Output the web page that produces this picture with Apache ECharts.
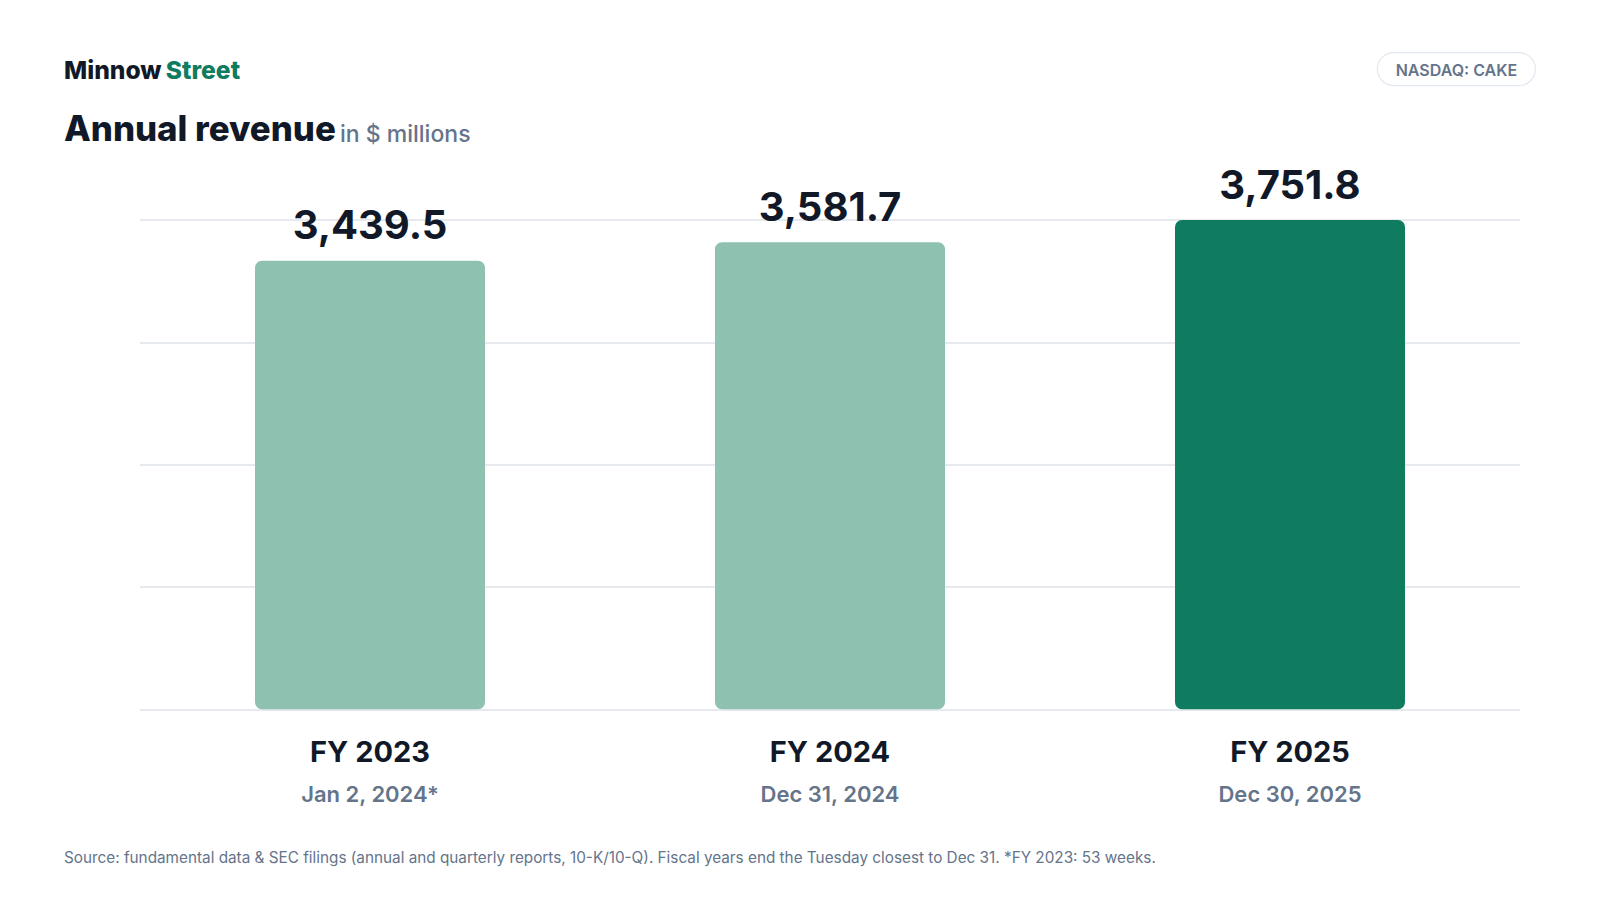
<!DOCTYPE html>
<html>
<head>
<meta charset="utf-8">
<script src="https://cdn.jsdelivr.net/npm/echarts@6/dist/echarts.min.js"></script>
<style>
html,body{margin:0;padding:0;background:#fff;}
#chart{width:1600px;height:900px;}
</style>
</head>
<body>
<div id="chart"></div>
<script>
const categories = ['FY 2023', 'FY 2024', 'FY 2025'];
const periodEnds = ['Jan 2, 2024*', 'Dec 31, 2024', 'Dec 30, 2025'];
const revenue = [3439.5, 3581.7, 3751.8];
const brandName = 'Minnow';
const brandAccent = 'Street';
const ticker = 'NASDAQ: CAKE';
const titleMain = 'Annual revenue';
const titleSub = 'in $ millions';
const footnote = 'Source: fundamental data & SEC filings (annual and quarterly reports, 10-K/10-Q). Fiscal years end the Tuesday closest to Dec 31. *FY 2023: 53 weeks.';

const FONT = 'Inter, "Noto Sans", sans-serif';
const DARK = '#111827';
const MUTED = '#64748b';
const GREEN = '#0f7b5f';
const LIGHT = '#8fc1b0';

const yMax = Math.max(...revenue);
const chart = echarts.init(document.getElementById('chart'), null, {renderer: 'svg'});

chart.setOption({
  backgroundColor: '#ffffff',
  animation: false,
  textStyle: {fontFamily: FONT},
  title: [
    {
      left: 64, top: 57, padding: 0,
      text: '{a|' + brandName + '} {b|' + brandAccent + '}',
      textStyle: {
        rich: {
          a: {fontFamily: FONT, fontSize: 24.6, fontWeight: 800, color: DARK},
          b: {fontFamily: FONT, fontSize: 24.6, fontWeight: 800, color: GREEN}
        }
      }
    },
    {
      left: 64, top: 101, padding: 0,
      text: '{a|' + titleMain + '} {b|' + titleSub + '}',
      textStyle: {
        rich: {
          a: {fontFamily: FONT, fontSize: 34.8, fontWeight: 800, color: DARK, verticalAlign: 'bottom', lineHeight: 44},
          b: {fontFamily: FONT, fontSize: 23, fontWeight: 500, color: MUTED, verticalAlign: 'bottom', lineHeight: 40}
        }
      }
    },
    {
      left: 64, top: 850, padding: 0,
      text: footnote,
      textStyle: {fontFamily: FONT, fontSize: 15.3, fontWeight: 400, color: MUTED}
    }
  ],
  graphic: [
    {
      type: 'group',
      right: 64, top: 52,
      children: [
        {
          type: 'rect',
          shape: {x: 0, y: 0, width: 158, height: 33, r: 16.5},
          style: {fill: '#ffffff', stroke: '#e2e8f0', lineWidth: 1.2}
        },
        {
          type: 'text',
          x: 79, y: 17,
          style: {
            text: ticker, fontFamily: FONT, fontSize: 16, fontWeight: 600,
            fill: MUTED, align: 'center', verticalAlign: 'middle'
          }
        }
      ]
    }
  ],
  grid: {left: 140, right: 80, top: 220, bottom: 190.7, containLabel: false},
  xAxis: {
    type: 'category',
    data: categories,
    axisLine: {show: false},
    axisTick: {show: false},
    axisLabel: {
      margin: 22,
      formatter: function (v, i) { return '{a|' + v + '}\n{b|' + periodEnds[i] + '}'; },
      rich: {
        a: {fontFamily: FONT, fontSize: 29, fontWeight: 700, color: DARK, lineHeight: 40},
        b: {fontFamily: FONT, fontSize: 22, fontWeight: 600, color: MUTED, lineHeight: 46}
      }
    }
  },
  yAxis: {
    type: 'value',
    min: 0,
    max: yMax,
    interval: yMax / 4,
    axisLabel: {show: false},
    axisLine: {show: false},
    axisTick: {show: false},
    splitLine: {lineStyle: {color: '#e6e9ee', width: 2}}
  },
  series: [{
    type: 'bar',
    barWidth: '50%',
    data: revenue.map((v, i) => ({
      value: v,
      itemStyle: {color: i === revenue.length - 1 ? GREEN : LIGHT, borderRadius: 7}
    })),
    label: {
      show: true,
      position: 'top',
      distance: 16,
      fontFamily: FONT,
      fontSize: 40,
      fontWeight: 700,
      color: DARK,
      formatter: p => p.value.toLocaleString('en-US', {minimumFractionDigits: 1, maximumFractionDigits: 1})
    }
  }]
});
</script>
</body>
</html>
